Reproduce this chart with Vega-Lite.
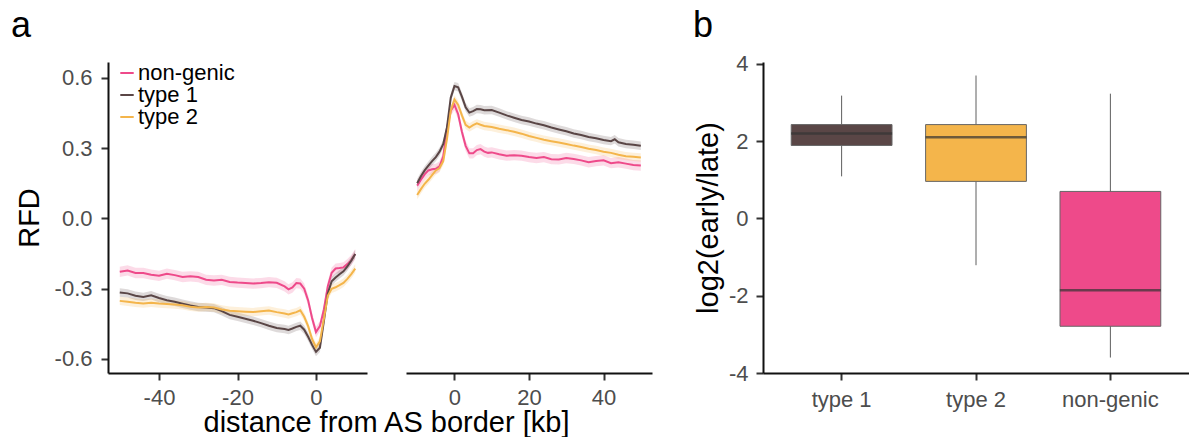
{
"$schema": "https://vega.github.io/schema/vega-lite/v6.json",
"padding": {"left": 11, "top": 7, "right": 0, "bottom": 0},
"config": {
  "view": {"stroke": null},
  "font": "Liberation Sans",
  "axis": {"grid": false, "domainColor": "#111", "domainWidth": 2, "tickColor": "#333", "tickWidth": 2, "tickSize": 7, "labelColor": "#4d4d4d", "labelFontSize": 22, "labelFont": "Liberation Sans", "labelPadding": 6, "titleFont": "Liberation Sans", "titleFontSize": 29, "titleFontWeight": "normal", "titleColor": "#000"},
  "title": {"font": "Liberation Sans", "fontSize": 36, "fontWeight": "normal", "color": "#000", "anchor": "start", "frame": "group", "baseline": "alphabetic"}
},
"datasets": {
"rfd": [
{"p":"L","g":"non-genic","x":-50,"y":-0.228,"e":0.022},{"p":"L","g":"non-genic","x":-48,"y":-0.222,"e":0.022},{"p":"L","g":"non-genic","x":-46,"y":-0.233,"e":0.022},{"p":"L","g":"non-genic","x":-44,"y":-0.233,"e":0.022},{"p":"L","g":"non-genic","x":-42,"y":-0.240,"e":0.022},{"p":"L","g":"non-genic","x":-40,"y":-0.245,"e":0.022},{"p":"L","g":"non-genic","x":-38,"y":-0.236,"e":0.022},{"p":"L","g":"non-genic","x":-36,"y":-0.242,"e":0.022},{"p":"L","g":"non-genic","x":-34,"y":-0.250,"e":0.022},{"p":"L","g":"non-genic","x":-32,"y":-0.247,"e":0.022},{"p":"L","g":"non-genic","x":-30,"y":-0.250,"e":0.022},{"p":"L","g":"non-genic","x":-28,"y":-0.262,"e":0.022},{"p":"L","g":"non-genic","x":-26,"y":-0.265,"e":0.022},{"p":"L","g":"non-genic","x":-24,"y":-0.262,"e":0.022},{"p":"L","g":"non-genic","x":-22,"y":-0.271,"e":0.022},{"p":"L","g":"non-genic","x":-20,"y":-0.274,"e":0.022},{"p":"L","g":"non-genic","x":-18,"y":-0.276,"e":0.022},{"p":"L","g":"non-genic","x":-16,"y":-0.278,"e":0.022},{"p":"L","g":"non-genic","x":-14,"y":-0.276,"e":0.022},{"p":"L","g":"non-genic","x":-12,"y":-0.272,"e":0.022},{"p":"L","g":"non-genic","x":-10,"y":-0.275,"e":0.022},{"p":"L","g":"non-genic","x":-8,"y":-0.290,"e":0.022},{"p":"L","g":"non-genic","x":-7,"y":-0.303,"e":0.022},{"p":"L","g":"non-genic","x":-6,"y":-0.295,"e":0.022},{"p":"L","g":"non-genic","x":-5,"y":-0.276,"e":0.022},{"p":"L","g":"non-genic","x":-4,"y":-0.278,"e":0.022},{"p":"L","g":"non-genic","x":-3,"y":-0.300,"e":0.022},{"p":"L","g":"non-genic","x":-2,"y":-0.350,"e":0.022},{"p":"L","g":"non-genic","x":-1,"y":-0.425,"e":0.022},{"p":"L","g":"non-genic","x":0,"y":-0.485,"e":0.022},{"p":"L","g":"non-genic","x":1,"y":-0.460,"e":0.022},{"p":"L","g":"non-genic","x":2,"y":-0.390,"e":0.022},{"p":"L","g":"non-genic","x":3,"y":-0.290,"e":0.022},{"p":"L","g":"non-genic","x":4,"y":-0.232,"e":0.022},{"p":"L","g":"non-genic","x":5,"y":-0.214,"e":0.022},{"p":"L","g":"non-genic","x":6,"y":-0.212,"e":0.022},{"p":"L","g":"non-genic","x":7,"y":-0.209,"e":0.022},{"p":"L","g":"non-genic","x":8,"y":-0.195,"e":0.022},{"p":"L","g":"non-genic","x":9,"y":-0.178,"e":0.022},{"p":"L","g":"non-genic","x":10,"y":-0.152,"e":0.022},
{"p":"L","g":"type 1","x":-50,"y":-0.316,"e":0.018},{"p":"L","g":"type 1","x":-48,"y":-0.320,"e":0.018},{"p":"L","g":"type 1","x":-46,"y":-0.330,"e":0.018},{"p":"L","g":"type 1","x":-44,"y":-0.335,"e":0.018},{"p":"L","g":"type 1","x":-42,"y":-0.328,"e":0.018},{"p":"L","g":"type 1","x":-40,"y":-0.340,"e":0.018},{"p":"L","g":"type 1","x":-38,"y":-0.349,"e":0.018},{"p":"L","g":"type 1","x":-36,"y":-0.356,"e":0.018},{"p":"L","g":"type 1","x":-34,"y":-0.364,"e":0.018},{"p":"L","g":"type 1","x":-32,"y":-0.372,"e":0.018},{"p":"L","g":"type 1","x":-30,"y":-0.378,"e":0.018},{"p":"L","g":"type 1","x":-28,"y":-0.380,"e":0.018},{"p":"L","g":"type 1","x":-26,"y":-0.383,"e":0.018},{"p":"L","g":"type 1","x":-24,"y":-0.396,"e":0.018},{"p":"L","g":"type 1","x":-22,"y":-0.412,"e":0.018},{"p":"L","g":"type 1","x":-20,"y":-0.420,"e":0.018},{"p":"L","g":"type 1","x":-18,"y":-0.428,"e":0.018},{"p":"L","g":"type 1","x":-16,"y":-0.437,"e":0.018},{"p":"L","g":"type 1","x":-14,"y":-0.447,"e":0.018},{"p":"L","g":"type 1","x":-12,"y":-0.458,"e":0.018},{"p":"L","g":"type 1","x":-10,"y":-0.468,"e":0.018},{"p":"L","g":"type 1","x":-8,"y":-0.472,"e":0.018},{"p":"L","g":"type 1","x":-7,"y":-0.476,"e":0.018},{"p":"L","g":"type 1","x":-6,"y":-0.470,"e":0.018},{"p":"L","g":"type 1","x":-5,"y":-0.463,"e":0.018},{"p":"L","g":"type 1","x":-4,"y":-0.458,"e":0.018},{"p":"L","g":"type 1","x":-3,"y":-0.475,"e":0.018},{"p":"L","g":"type 1","x":-2,"y":-0.505,"e":0.018},{"p":"L","g":"type 1","x":-1,"y":-0.540,"e":0.018},{"p":"L","g":"type 1","x":0,"y":-0.570,"e":0.018},{"p":"L","g":"type 1","x":1,"y":-0.552,"e":0.018},{"p":"L","g":"type 1","x":2,"y":-0.440,"e":0.018},{"p":"L","g":"type 1","x":3,"y":-0.320,"e":0.018},{"p":"L","g":"type 1","x":4,"y":-0.268,"e":0.018},{"p":"L","g":"type 1","x":5,"y":-0.252,"e":0.018},{"p":"L","g":"type 1","x":6,"y":-0.238,"e":0.018},{"p":"L","g":"type 1","x":7,"y":-0.226,"e":0.018},{"p":"L","g":"type 1","x":8,"y":-0.205,"e":0.018},{"p":"L","g":"type 1","x":9,"y":-0.180,"e":0.018},{"p":"L","g":"type 1","x":10,"y":-0.152,"e":0.018},
{"p":"L","g":"type 2","x":-50,"y":-0.352,"e":0.018},{"p":"L","g":"type 2","x":-48,"y":-0.356,"e":0.018},{"p":"L","g":"type 2","x":-46,"y":-0.360,"e":0.018},{"p":"L","g":"type 2","x":-44,"y":-0.363,"e":0.018},{"p":"L","g":"type 2","x":-42,"y":-0.360,"e":0.018},{"p":"L","g":"type 2","x":-40,"y":-0.363,"e":0.018},{"p":"L","g":"type 2","x":-38,"y":-0.365,"e":0.018},{"p":"L","g":"type 2","x":-36,"y":-0.368,"e":0.018},{"p":"L","g":"type 2","x":-34,"y":-0.371,"e":0.018},{"p":"L","g":"type 2","x":-32,"y":-0.377,"e":0.018},{"p":"L","g":"type 2","x":-30,"y":-0.380,"e":0.018},{"p":"L","g":"type 2","x":-28,"y":-0.378,"e":0.018},{"p":"L","g":"type 2","x":-26,"y":-0.380,"e":0.018},{"p":"L","g":"type 2","x":-24,"y":-0.389,"e":0.018},{"p":"L","g":"type 2","x":-22,"y":-0.394,"e":0.018},{"p":"L","g":"type 2","x":-20,"y":-0.396,"e":0.018},{"p":"L","g":"type 2","x":-18,"y":-0.398,"e":0.018},{"p":"L","g":"type 2","x":-16,"y":-0.400,"e":0.018},{"p":"L","g":"type 2","x":-14,"y":-0.396,"e":0.018},{"p":"L","g":"type 2","x":-12,"y":-0.393,"e":0.018},{"p":"L","g":"type 2","x":-10,"y":-0.400,"e":0.018},{"p":"L","g":"type 2","x":-8,"y":-0.406,"e":0.018},{"p":"L","g":"type 2","x":-7,"y":-0.410,"e":0.018},{"p":"L","g":"type 2","x":-6,"y":-0.405,"e":0.018},{"p":"L","g":"type 2","x":-5,"y":-0.400,"e":0.018},{"p":"L","g":"type 2","x":-4,"y":-0.392,"e":0.018},{"p":"L","g":"type 2","x":-3,"y":-0.420,"e":0.018},{"p":"L","g":"type 2","x":-2,"y":-0.460,"e":0.018},{"p":"L","g":"type 2","x":-1,"y":-0.515,"e":0.018},{"p":"L","g":"type 2","x":0,"y":-0.550,"e":0.018},{"p":"L","g":"type 2","x":1,"y":-0.525,"e":0.018},{"p":"L","g":"type 2","x":2,"y":-0.430,"e":0.018},{"p":"L","g":"type 2","x":3,"y":-0.330,"e":0.018},{"p":"L","g":"type 2","x":4,"y":-0.300,"e":0.018},{"p":"L","g":"type 2","x":5,"y":-0.294,"e":0.018},{"p":"L","g":"type 2","x":6,"y":-0.285,"e":0.018},{"p":"L","g":"type 2","x":7,"y":-0.275,"e":0.018},{"p":"L","g":"type 2","x":8,"y":-0.258,"e":0.018},{"p":"L","g":"type 2","x":9,"y":-0.238,"e":0.018},{"p":"L","g":"type 2","x":10,"y":-0.214,"e":0.018},
{"p":"R","g":"non-genic","x":-10,"y":0.140,"e":0.022},{"p":"R","g":"non-genic","x":-9,"y":0.165,"e":0.022},{"p":"R","g":"non-genic","x":-8,"y":0.188,"e":0.022},{"p":"R","g":"non-genic","x":-7,"y":0.205,"e":0.022},{"p":"R","g":"non-genic","x":-6,"y":0.210,"e":0.022},{"p":"R","g":"non-genic","x":-5,"y":0.212,"e":0.022},{"p":"R","g":"non-genic","x":-4,"y":0.222,"e":0.022},{"p":"R","g":"non-genic","x":-3,"y":0.265,"e":0.022},{"p":"R","g":"non-genic","x":-2,"y":0.385,"e":0.022},{"p":"R","g":"non-genic","x":-1,"y":0.460,"e":0.022},{"p":"R","g":"non-genic","x":0,"y":0.485,"e":0.022},{"p":"R","g":"non-genic","x":1,"y":0.445,"e":0.022},{"p":"R","g":"non-genic","x":2,"y":0.370,"e":0.022},{"p":"R","g":"non-genic","x":3,"y":0.310,"e":0.022},{"p":"R","g":"non-genic","x":4,"y":0.278,"e":0.022},{"p":"R","g":"non-genic","x":5,"y":0.278,"e":0.022},{"p":"R","g":"non-genic","x":6,"y":0.292,"e":0.022},{"p":"R","g":"non-genic","x":7,"y":0.296,"e":0.022},{"p":"R","g":"non-genic","x":8,"y":0.285,"e":0.022},{"p":"R","g":"non-genic","x":9,"y":0.280,"e":0.022},{"p":"R","g":"non-genic","x":10,"y":0.282,"e":0.022},{"p":"R","g":"non-genic","x":12,"y":0.274,"e":0.022},{"p":"R","g":"non-genic","x":14,"y":0.268,"e":0.022},{"p":"R","g":"non-genic","x":16,"y":0.270,"e":0.022},{"p":"R","g":"non-genic","x":18,"y":0.268,"e":0.022},{"p":"R","g":"non-genic","x":20,"y":0.262,"e":0.022},{"p":"R","g":"non-genic","x":22,"y":0.258,"e":0.022},{"p":"R","g":"non-genic","x":24,"y":0.262,"e":0.022},{"p":"R","g":"non-genic","x":26,"y":0.253,"e":0.022},{"p":"R","g":"non-genic","x":28,"y":0.252,"e":0.022},{"p":"R","g":"non-genic","x":30,"y":0.258,"e":0.022},{"p":"R","g":"non-genic","x":32,"y":0.254,"e":0.022},{"p":"R","g":"non-genic","x":34,"y":0.248,"e":0.022},{"p":"R","g":"non-genic","x":36,"y":0.240,"e":0.022},{"p":"R","g":"non-genic","x":38,"y":0.245,"e":0.022},{"p":"R","g":"non-genic","x":40,"y":0.248,"e":0.022},{"p":"R","g":"non-genic","x":42,"y":0.236,"e":0.022},{"p":"R","g":"non-genic","x":44,"y":0.240,"e":0.022},{"p":"R","g":"non-genic","x":46,"y":0.234,"e":0.022},{"p":"R","g":"non-genic","x":48,"y":0.228,"e":0.022},{"p":"R","g":"non-genic","x":50,"y":0.226,"e":0.022},
{"p":"R","g":"type 1","x":-10,"y":0.150,"e":0.018},{"p":"R","g":"type 1","x":-9,"y":0.180,"e":0.018},{"p":"R","g":"type 1","x":-8,"y":0.205,"e":0.018},{"p":"R","g":"type 1","x":-7,"y":0.225,"e":0.018},{"p":"R","g":"type 1","x":-6,"y":0.245,"e":0.018},{"p":"R","g":"type 1","x":-5,"y":0.262,"e":0.018},{"p":"R","g":"type 1","x":-4,"y":0.285,"e":0.018},{"p":"R","g":"type 1","x":-3,"y":0.318,"e":0.018},{"p":"R","g":"type 1","x":-2,"y":0.390,"e":0.018},{"p":"R","g":"type 1","x":-1,"y":0.515,"e":0.018},{"p":"R","g":"type 1","x":0,"y":0.565,"e":0.018},{"p":"R","g":"type 1","x":1,"y":0.560,"e":0.018},{"p":"R","g":"type 1","x":2,"y":0.520,"e":0.018},{"p":"R","g":"type 1","x":3,"y":0.475,"e":0.018},{"p":"R","g":"type 1","x":4,"y":0.452,"e":0.018},{"p":"R","g":"type 1","x":5,"y":0.458,"e":0.018},{"p":"R","g":"type 1","x":6,"y":0.467,"e":0.018},{"p":"R","g":"type 1","x":7,"y":0.466,"e":0.018},{"p":"R","g":"type 1","x":8,"y":0.462,"e":0.018},{"p":"R","g":"type 1","x":10,"y":0.463,"e":0.018},{"p":"R","g":"type 1","x":12,"y":0.452,"e":0.018},{"p":"R","g":"type 1","x":14,"y":0.440,"e":0.018},{"p":"R","g":"type 1","x":16,"y":0.430,"e":0.018},{"p":"R","g":"type 1","x":18,"y":0.420,"e":0.018},{"p":"R","g":"type 1","x":20,"y":0.414,"e":0.018},{"p":"R","g":"type 1","x":22,"y":0.405,"e":0.018},{"p":"R","g":"type 1","x":24,"y":0.398,"e":0.018},{"p":"R","g":"type 1","x":26,"y":0.388,"e":0.018},{"p":"R","g":"type 1","x":28,"y":0.380,"e":0.018},{"p":"R","g":"type 1","x":30,"y":0.372,"e":0.018},{"p":"R","g":"type 1","x":32,"y":0.363,"e":0.018},{"p":"R","g":"type 1","x":34,"y":0.356,"e":0.018},{"p":"R","g":"type 1","x":36,"y":0.348,"e":0.018},{"p":"R","g":"type 1","x":38,"y":0.342,"e":0.018},{"p":"R","g":"type 1","x":40,"y":0.335,"e":0.018},{"p":"R","g":"type 1","x":42,"y":0.330,"e":0.018},{"p":"R","g":"type 1","x":43,"y":0.338,"e":0.018},{"p":"R","g":"type 1","x":44,"y":0.325,"e":0.018},{"p":"R","g":"type 1","x":46,"y":0.318,"e":0.018},{"p":"R","g":"type 1","x":48,"y":0.315,"e":0.018},{"p":"R","g":"type 1","x":50,"y":0.310,"e":0.018},
{"p":"R","g":"type 2","x":-10,"y":0.100,"e":0.018},{"p":"R","g":"type 2","x":-9,"y":0.125,"e":0.018},{"p":"R","g":"type 2","x":-8,"y":0.148,"e":0.018},{"p":"R","g":"type 2","x":-7,"y":0.165,"e":0.018},{"p":"R","g":"type 2","x":-6,"y":0.185,"e":0.018},{"p":"R","g":"type 2","x":-5,"y":0.205,"e":0.018},{"p":"R","g":"type 2","x":-4,"y":0.215,"e":0.018},{"p":"R","g":"type 2","x":-3,"y":0.245,"e":0.018},{"p":"R","g":"type 2","x":-2,"y":0.340,"e":0.018},{"p":"R","g":"type 2","x":-1,"y":0.460,"e":0.018},{"p":"R","g":"type 2","x":0,"y":0.508,"e":0.018},{"p":"R","g":"type 2","x":1,"y":0.485,"e":0.018},{"p":"R","g":"type 2","x":2,"y":0.440,"e":0.018},{"p":"R","g":"type 2","x":3,"y":0.400,"e":0.018},{"p":"R","g":"type 2","x":4,"y":0.388,"e":0.018},{"p":"R","g":"type 2","x":5,"y":0.398,"e":0.018},{"p":"R","g":"type 2","x":6,"y":0.406,"e":0.018},{"p":"R","g":"type 2","x":7,"y":0.400,"e":0.018},{"p":"R","g":"type 2","x":8,"y":0.395,"e":0.018},{"p":"R","g":"type 2","x":10,"y":0.390,"e":0.018},{"p":"R","g":"type 2","x":12,"y":0.383,"e":0.018},{"p":"R","g":"type 2","x":14,"y":0.377,"e":0.018},{"p":"R","g":"type 2","x":16,"y":0.370,"e":0.018},{"p":"R","g":"type 2","x":18,"y":0.362,"e":0.018},{"p":"R","g":"type 2","x":20,"y":0.352,"e":0.018},{"p":"R","g":"type 2","x":22,"y":0.344,"e":0.018},{"p":"R","g":"type 2","x":24,"y":0.336,"e":0.018},{"p":"R","g":"type 2","x":26,"y":0.330,"e":0.018},{"p":"R","g":"type 2","x":28,"y":0.324,"e":0.018},{"p":"R","g":"type 2","x":30,"y":0.318,"e":0.018},{"p":"R","g":"type 2","x":32,"y":0.311,"e":0.018},{"p":"R","g":"type 2","x":34,"y":0.305,"e":0.018},{"p":"R","g":"type 2","x":36,"y":0.298,"e":0.018},{"p":"R","g":"type 2","x":38,"y":0.292,"e":0.018},{"p":"R","g":"type 2","x":40,"y":0.285,"e":0.018},{"p":"R","g":"type 2","x":42,"y":0.280,"e":0.018},{"p":"R","g":"type 2","x":44,"y":0.272,"e":0.018},{"p":"R","g":"type 2","x":46,"y":0.266,"e":0.018},{"p":"R","g":"type 2","x":48,"y":0.263,"e":0.018},{"p":"R","g":"type 2","x":50,"y":0.260,"e":0.018}
],
"box": [
{"g":"type 1","lo":1.09,"q1":1.89,"med":2.2,"q3":2.43,"hi":3.18},
{"g":"type 2","lo":-1.21,"q1":0.96,"med":2.1,"q3":2.43,"hi":3.7},
{"g":"non-genic","lo":-3.6,"q1":-2.79,"med":-1.86,"q3":0.7,"hi":3.23}
]
},
"hconcat": [
  {
    "hconcat": [
      {
        "title": {"text": "a", "dx": -97, "offset": 17},
        "width": 259, "height": 311,
        "data": {"name": "rfd"},
        "transform": [{"filter": "datum.p === 'L'"}],
        "encoding": {
          "x": {"field": "x", "type": "quantitative", "scale": {"domain": [-53, 13], "nice": false, "zero": false},
                "axis": {"values": [-40, -20, 0], "title": "distance from AS border [kb]", "titleX": 278, "titleY": 58, "titleAlign": "center", "titleBaseline": "alphabetic", "labelPadding": 7, "labelExpr": "replace(datum.label, '\u2212', '-')"}},
          "color": {"field": "g", "type": "nominal", "scale": {"domain": ["non-genic", "type 1", "type 2"], "range": ["#ee4a8a", "#5a4646", "#f4b54b"]},
                    "legend": {"title": null, "orient": "none", "legendX": 8, "legendY": 0, "symbolType": "stroke", "symbolSize": 180, "symbolStrokeWidth": 2, "symbolOpacity": 1, "labelFontSize": 22, "labelColor": "#000", "labelOffset": 0, "rowPadding": -3, "padding": 0}}
        },
        "layer": [
          {"mark": {"type": "errorband", "band": {"opacity": 0.2}, "borders": false},
           "encoding": {"y": {"field": "y", "type": "quantitative", "scale": {"domain": [-0.66, 0.668], "nice": false, "zero": false},
                               "axis": {"values": [-0.6, -0.3, 0, 0.3, 0.6], "format": ".1f", "title": "RFD", "titlePadding": 10, "labelPadding": 9, "labelExpr": "replace(datum.label, '\u2212', '-')"}},
                        "yError": {"field": "e"}}},
          {"mark": {"type": "line", "strokeWidth": 2},
           "encoding": {"y": {"field": "y", "type": "quantitative"}}}
        ]
      },
      {
        "width": 246, "height": 311,
        "data": {"name": "rfd"},
        "transform": [{"filter": "datum.p === 'R'"}],
        "encoding": {
          "x": {"field": "x", "type": "quantitative", "scale": {"domain": [-13, 53], "nice": false, "zero": false},
                "axis": {"values": [0, 20, 40], "title": null, "labelPadding": 7}},
          "color": {"field": "g", "type": "nominal", "scale": {"domain": ["non-genic", "type 1", "type 2"], "range": ["#ee4a8a", "#5a4646", "#f4b54b"]}, "legend": null}
        },
        "layer": [
          {"mark": {"type": "errorband", "band": {"opacity": 0.2}, "borders": false},
           "encoding": {"y": {"field": "y", "type": "quantitative", "scale": {"domain": [-0.66, 0.668], "nice": false, "zero": false}, "axis": null},
                        "yError": {"field": "e"}}},
          {"mark": {"type": "line", "strokeWidth": 2},
           "encoding": {"y": {"field": "y", "type": "quantitative"}}}
        ]
      }
    ],
    "spacing": 39,
    "bounds": "flush",
    "resolve": {"scale": {"x": "independent", "y": "independent"}}
  },
  {
    "title": {"text": "b", "dx": -70, "offset": 8},
    "width": 426, "height": 311,
    "data": {"name": "box"},
    "encoding": {
      "x": {"field": "g", "type": "nominal", "sort": ["type 1", "type 2", "non-genic"],
            "scale": {"paddingInner": 0.25, "paddingOuter": 0.21},
            "axis": {"title": null, "labelAngle": 0, "labelPadding": 9}}
    },
    "layer": [
      {"mark": {"type": "rule", "color": "#5e5e5e", "strokeWidth": 1},
       "encoding": {"y": {"field": "lo", "type": "quantitative", "scale": {"domain": [-4, 4.05], "nice": false, "zero": false},
                          "axis": {"values": [-4, -2, 0, 2, 4], "title": "log2(early/late)", "titlePadding": 5, "labelPadding": 8, "labelExpr": "replace(datum.label, '\u2212', '-')"}},
                    "y2": {"field": "hi"}}},
      {"mark": {"type": "bar", "stroke": "#666", "strokeWidth": 1, "opacity": 1},
       "encoding": {"y": {"field": "q1", "type": "quantitative"}, "y2": {"field": "q3"},
                    "color": {"field": "g", "type": "nominal", "scale": {"domain": ["type 1", "type 2", "non-genic"], "range": ["#5a4646", "#f4b54b", "#ee4a8a"]}, "legend": null}}},
      {"mark": {"type": "tick", "color": "#333", "thickness": 2.5, "size": 101},
       "encoding": {"y": {"field": "med", "type": "quantitative"}}}
    ]
  }
],
"spacing": 41,
"bounds": "full",
"resolve": {"scale": {"color": "independent", "x": "independent", "y": "independent"}, "legend": {"color": "independent"}}
}
